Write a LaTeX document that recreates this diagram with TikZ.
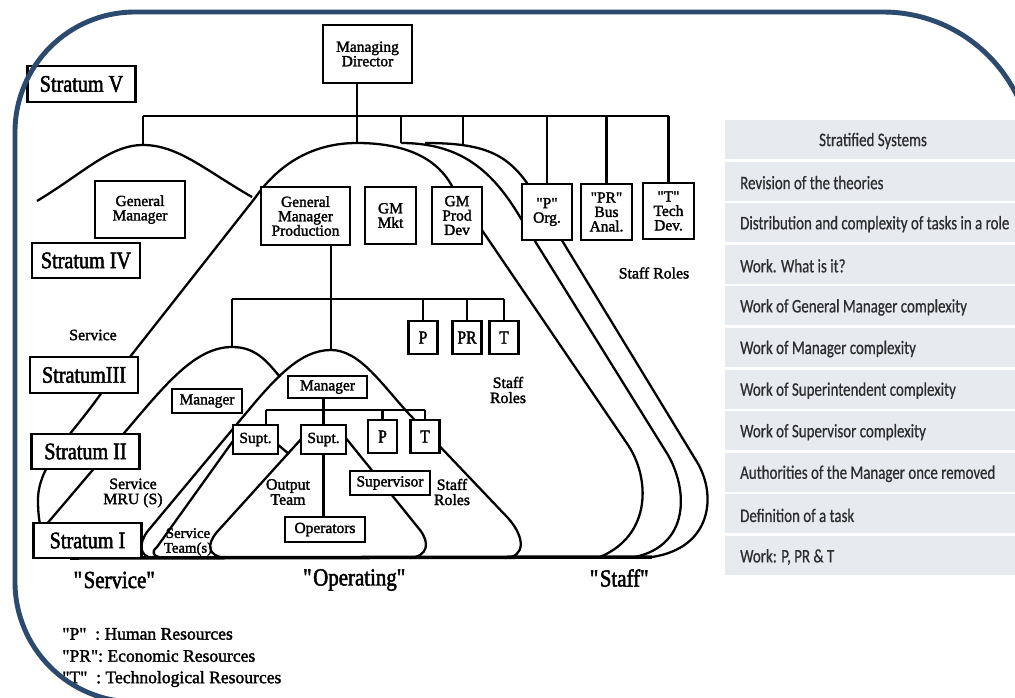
\documentclass[tikz,border=0pt]{standalone}
\usepackage{fontspec}
\setmainfont{Liberation Serif}[FakeBold=1.8]
\newfontfamily\condserif{Liberation Serif}[FakeStretch=0.85, FakeBold=2]
\newfontfamily\tabfont{Carlito}[FakeStretch=0.78, FakeBold=0.6]
\usetikzlibrary{calc}
\definecolor{framecol}{RGB}{44,74,110}
\definecolor{rowcol}{RGB}{231,235,240}
\definecolor{rowtxt}{RGB}{45,45,45}
\newcommand{\stratfont}{\condserif\fontsize{13.5}{14}\selectfont}
\newcommand{\boxfont}{\fontsize{8.8}{8.2}\selectfont}
\newcommand{\letterfont}{\condserif\fontsize{10.5}{10}\selectfont}
\newcommand{\lblfont}{\fontsize{9}{8.6}\selectfont}
\newcommand{\smlfont}{\fontsize{8.4}{8.4}\selectfont}
\newcommand{\quotefont}{\condserif\fontsize{14}{14}\selectfont}
\newcommand{\legfont}{\fontsize{10}{11}\selectfont}
\newcommand{\rowfont}{\tabfont\fontsize{10.9}{12}\selectfont}
\newcommand{\dq}{\textquotedbl}
\begin{document}
\begin{tikzpicture}[
	x=0.02cm, y=-0.02cm,
	arch/.style={line width=1.3pt, line join=round},
	box/.style={draw, fill=white, line width=1.3pt, inner sep=0pt, align=center, font=\boxfont},
	stratum/.style={box, font=\stratfont, minimum width=2.16cm, minimum height=0.71cm},
	letter box/.style={box, font=\letterfont, minimum width=0.58cm, minimum height=0.66cm},
	label node/.style={align=center, font=\lblfont},
	quote/.style={font=\quotefont},
	legend/.style={font=\legfont, anchor=west, inner sep=0pt},
	row/.style={fill=rowcol},
	row text/.style={font=\rowfont, text=rowtxt}
	]
	\useasboundingbox (0,0) rectangle (1015,697);
	\clip (0,0) rectangle (1015,697);
	\fill[white] (0,0) rectangle (1015,697);
	
	\coordinate (gmpeak) at (143,145);
	\coordinate (prodpeak) at (357,143);
	\coordinate (bpeak) at (401,143);
	\coordinate (cpeak) at (463,145);
	\coordinate (speak) at (232,347);
	\coordinate (opeak) at (331,350);
	\coordinate (bus1) at (0,116);
	\coordinate (bus2) at (0,299);
	\coordinate (bus3) at (0,410);
	
	\draw[arch] (37,201) .. controls (85,172) and (110,145) .. (gmpeak) .. controls (178,145) and (205,170) .. (252,197);
	\draw[arch] (80,558) .. controls (50,557) and (38,540) .. (38,500) .. controls (38,465) and (70,437) .. (100,395) -- (255,198) .. controls (280,162) and (315,143) .. (prodpeak) .. controls (400,143) and (435,155) .. (452,186) -- (628,445) .. controls (650,478) and (652,535) .. (600,557);
	\draw[arch] (bpeak) .. controls (460,143) and (492,170) .. (520,217) -- (668,455) .. controls (688,490) and (690,545) .. (635,557);
	\draw[arch] (425,143) .. controls (480,143) and (505,152) .. (527,183) -- (697,462) .. controls (717,495) and (712,548) .. (652,557);
	\draw[arch] (40,532) -- (125,432) .. controls (165,385) and (195,347) .. (speak) .. controls (255,347) and (266,360) .. (280,377);
	\draw[arch] (152,558) .. controls (140,556) and (138,545) .. (147,532) -- (242,418) .. controls (275,378) and (300,350) .. (opeak) .. controls (360,350) and (382,385) .. (410,415) -- (508,518) .. controls (525,537) and (526,557) .. (505,558);
	\draw[arch] (225,558) .. controls (208,556) and (206,545) .. (217,532) -- (303,437) .. controls (312,427) and (336,427) .. (345,437) -- (420,530) .. controls (430,543) and (428,556) .. (410,558);
	\draw[arch] (165,558) .. controls (152,557) and (151,552) .. (157,547) -- (233,441);
	\draw[arch] (277,444) -- (289,454);
	\draw[line width=2pt] (70,558) -- (652,557);
	
	\node[stratum] (s5) at (81.5,84) {Stratum V};
	\node[stratum] (s4) at (86,260.5) {Stratum IV};
	\node[stratum] (s3) at (84,375) {StratumIII};
	\node[stratum] (s2) at (85.5,451.5) {Stratum II};
	\node[stratum] (s1) at (87.5,540.5) {Stratum I};
	
	\node[box, minimum width=1.78cm, minimum height=1.16cm] (md) at (367.5,54) {Managing\\Director};
	\node[box, minimum width=1.80cm, minimum height=1.14cm] (gm) at (140,209.5) {General\\Manager};
	\node[box, minimum width=1.78cm, minimum height=1.16cm] (gmp) at (305.5,216) {General\\Manager\\Production};
	\node[box, minimum width=1.02cm, minimum height=1.14cm] (gmm) at (390.5,215.5) {GM\\Mkt};
	\node[box, minimum width=1.00cm, minimum height=1.14cm] (gmd) at (457,215.5) {GM\\Prod\\Dev};
	\node[box, minimum width=1.00cm, minimum height=1.12cm] (porg) at (547,212) {\dq P\dq\\Org.};
	\node[box, minimum width=1.02cm, minimum height=1.12cm] (prorg) at (606.5,212) {\dq PR\dq\\Bus\\Anal.};
	\node[box, minimum width=1.02cm, minimum height=1.12cm] (torg) at (668.5,211) {\dq T\dq\\Tech\\Dev.};
	
	\node[letter box] (p2) at (423,337.5) {P};
	\node[letter box] (pr2) at (467,337.5) {PR};
	\node[letter box] (t2) at (504,337.5) {T};
	
	\node[box, minimum width=1.40cm, minimum height=0.48cm] (smgr) at (207,401) {Manager};
	\node[box, minimum width=1.58cm, minimum height=0.44cm] (omgr) at (327.5,387) {Manager};
	\node[box, minimum width=0.90cm, minimum height=0.58cm] (supt1) at (255.5,439.5) {Supt.};
	\node[box, minimum width=0.90cm, minimum height=0.58cm] (supt2) at (323.5,439.5) {Supt.};
	\node[letter box] (p3) at (382.5,436.5) {P};
	\node[letter box] (t3) at (425,436.5) {T};
	\node[box, minimum width=1.60cm, minimum height=0.48cm] (sup) at (390,483) {Supervisor};
	\node[box, minimum width=1.60cm, minimum height=0.50cm] (ops) at (325,529.5) {Operators};
	
	\draw[arch] (gmpeak |- bus1) -- (torg.north |- bus1);
	\draw[arch] (md.south -| prodpeak) -- (prodpeak);
	\foreach \n in {gmpeak,bpeak,cpeak,porg.north,prorg.north,torg.north}
		\draw[arch] (\n |- bus1) -- (\n);
	
	\draw[arch] (speak |- bus2) -- (t2.north |- bus2);
	\draw[arch] (gmp.south -| opeak) -- (opeak);
	\foreach \n in {speak,p2.north,pr2.north,t2.north}
		\draw[arch] (\n |- bus2) -- (\n);
	
	\coordinate (supt1top) at (266,425);
	\draw[arch] (supt1top |- bus3) -- (t3.north |- bus3);
	\draw[arch] (omgr.south -| supt2.north) -- (supt2.north);
	\foreach \n in {supt1top,p3.north,t3.north}
		\draw[arch] (\n |- bus3) -- (\n);
	\draw[arch] (supt2.south) -- (supt2.south |- ops.north);
	
	\node[label node] (lsvc) at (93,335) {Service};
	\node[label node] (lmru) at (133,493) {Service\\MRU (S)};
	\node[label node, font=\smlfont] (lteam) at (188,542) {Service\\Team(s)};
	\node[label node] (lout) at (288,492) {Output\\Team};
	\node[label node] (lstaff1) at (452,492) {Staff\\Roles};
	\node[label node] (lstaff2) at (508,390) {Staff\\Roles};
	\node[label node] (lstaff3) at (654,273) {Staff Roles};
	
	\node[quote] (qsvc) at (115,580) {\dq Service\dq};
	\node[quote] (qop) at (355,580) {\dq Operating\dq};
	\node[quote] (qstaff) at (620,578) {\dq Staff\dq};
	
	\node[legend] (legp) at (62,634) {\dq P\dq\ \ : Human Resources};
	\node[legend] (legpr) at (62,656) {\dq PR\dq: Economic Resources};
	\node[legend] (legt) at (62,679) {\dq T\dq\ \ : Technological Resources};
	
	\fill[row] (725,120) rectangle ++(300,39);
	\node[row text] (rowhead) at (873,141) {Stratified Systems};
	\foreach \txt [count=\i] in {Revision of the theories, Distribution and complexity of tasks in a role, Work. What is it?, Work of General Manager complexity, Work of Manager complexity, Work of Superintendent complexity, Work of Supervisor complexity, Authorities of the Manager once removed, Definition of a task, {Work: P, PR \& T}}{
		\pgfmathsetmacro\rtop{120+41.6*\i}
		\fill[row] (725,\rtop) rectangle ++(300,39);
		\node[row text, anchor=west] (row\i) at (734,\rtop+21) {\txt};
	}
	
	\draw[framecol, line width=2.8pt, rounded corners=2.4cm] (1045,702) -- (15,702) -- (15,12) [rounded corners=2.98cm] -- (1032,12) -- (1032,760);
\end{tikzpicture}
\end{document}
